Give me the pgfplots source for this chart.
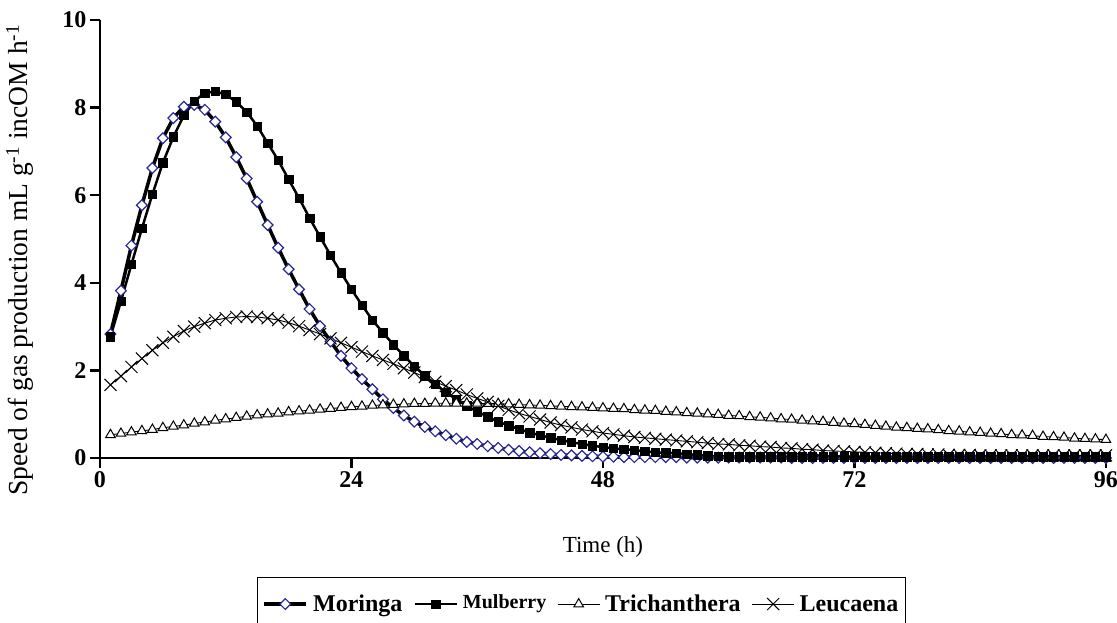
\documentclass[border=0pt]{standalone}
\usepackage{fontspec}
\setmainfont{Liberation Serif}
\usepackage{pgfplots}
\usepackage{pgfplotstable}
\pgfplotsset{compat=1.18}
\definecolor{dblue}{RGB}{40,40,150}

\pgfplotstableread{
t M B T L
1 2.83 2.77 0.53 1.67
2 3.82 3.58 0.56 1.87
3 4.85 4.42 0.59 2.08
4 5.77 5.24 0.62 2.27
5 6.62 6.02 0.65 2.46
6 7.30 6.74 0.69 2.63
7 7.76 7.33 0.72 2.77
8 8.02 7.82 0.75 2.90
9 8.06 8.15 0.79 3.00
10 7.95 8.33 0.82 3.08
11 7.68 8.37 0.86 3.15
12 7.32 8.30 0.89 3.19
13 6.87 8.13 0.92 3.22
14 6.38 7.90 0.95 3.23
15 5.85 7.58 0.98 3.22
16 5.32 7.19 1.00 3.19
17 4.80 6.80 1.02 3.15
18 4.31 6.36 1.05 3.09
19 3.85 5.93 1.07 3.01
20 3.40 5.48 1.09 2.92
21 3.01 5.05 1.11 2.83
22 2.66 4.63 1.13 2.73
23 2.33 4.23 1.15 2.63
24 2.05 3.85 1.17 2.53
25 1.80 3.49 1.18 2.43
26 1.57 3.15 1.20 2.33
27 1.34 2.86 1.21 2.24
28 1.14 2.59 1.22 2.15
29 0.97 2.33 1.23 2.05
30 0.83 2.10 1.24 1.95
31 0.71 1.88 1.24 1.85
32 0.61 1.68 1.25 1.74
33 0.52 1.50 1.25 1.64
34 0.44 1.34 1.25 1.55
35 0.37 1.19 1.25 1.45
36 0.32 1.06 1.25 1.36
37 0.27 0.94 1.24 1.28
38 0.23 0.83 1.24 1.19
39 0.19 0.74 1.23 1.10
40 0.16 0.66 1.22 1.02
41 0.13 0.58 1.21 0.95
42 0.11 0.52 1.20 0.88
43 0.09 0.46 1.19 0.81
44 0.07 0.41 1.18 0.75
45 0.06 0.36 1.17 0.70
46 0.05 0.32 1.16 0.65
47 0.04 0.28 1.15 0.61
48 0.03 0.25 1.14 0.57
49 0.03 0.22 1.13 0.54
50 0.02 0.20 1.12 0.51
51 0.02 0.18 1.10 0.48
52 0.02 0.15 1.09 0.46
53 0.02 0.13 1.08 0.44
54 0.02 0.12 1.06 0.42
55 0.02 0.11 1.05 0.40
56 0.01 0.09 1.03 0.38
57 0.01 0.07 1.02 0.36
58 0.01 0.05 1.00 0.34
59 0.01 0.04 0.99 0.32
60 0.01 0.03 0.97 0.31
61 0.01 0.03 0.96 0.29
62 0.01 0.03 0.94 0.28
63 0.01 0.03 0.93 0.26
64 0.01 0.03 0.91 0.25
65 0.01 0.03 0.89 0.23
66 0.00 0.03 0.88 0.22
67 0.00 0.03 0.86 0.20
68 0.00 0.03 0.84 0.19
69 0.00 0.03 0.83 0.17
70 0.00 0.03 0.81 0.16
71 0.00 0.03 0.79 0.15
72 0.00 0.03 0.78 0.14
73 0.00 0.03 0.76 0.13
74 0.00 0.03 0.74 0.12
75 0.00 0.03 0.72 0.11
76 0.00 0.03 0.70 0.10
77 0.00 0.03 0.69 0.09
78 0.00 0.03 0.67 0.09
79 0.00 0.03 0.66 0.08
80 0.00 0.03 0.64 0.08
81 0.00 0.03 0.62 0.07
82 0.00 0.03 0.61 0.07
83 0.00 0.03 0.59 0.07
84 0.00 0.03 0.58 0.06
85 0.00 0.03 0.56 0.06
86 0.00 0.03 0.55 0.06
87 0.00 0.03 0.53 0.06
88 0.00 0.03 0.52 0.06
89 0.00 0.03 0.51 0.06
90 0.00 0.03 0.49 0.06
91 0.00 0.03 0.48 0.06
92 0.00 0.03 0.47 0.06
93 0.00 0.03 0.45 0.06
94 0.00 0.03 0.44 0.06
95 0.00 0.03 0.43 0.06
96 0.00 0.03 0.42 0.06
}\datatable

\begin{document}
\begin{tikzpicture}[font=\fontsize{23}{27}\selectfont]
\begin{axis}[
  at={(100pt,164pt)}, anchor=south west,
  scale only axis, width=1006pt, height=438pt,
  xmin=0, xmax=96, ymin=0, ymax=10,
  axis lines=left, axis line style={-, line width=2.5pt, black},
  xtick={0,24,48,72,96}, ytick={0,2,4,6,8,10},
  tick align=outside, major tick length=10pt,
  tick style={line width=2.5pt, black},
  /pgf/number format/assume math mode=true,
  tick label style={font=\fontsize{24}{24}\selectfont\bfseries},
  xlabel={Time (h)},
  ylabel={\fontsize{27.5}{30}\selectfont Speed of gas production mL g\textsuperscript{-1} incOM h\textsuperscript{-1}},
  xlabel style={at={(axis description cs:0.5,-0.203)}, anchor=center},
  ylabel style={at={(axis description cs:-0.0795,0.452)}, anchor=center},
  clip=false,
  legend columns=4,
  legend style={at={(axis description cs:0.4786,-0.2717)}, anchor=north,
    draw=black, line width=0.8pt, font=\fontsize{24}{28}\selectfont\bfseries,
    inner xsep=5pt, inner ysep=15pt,
    /tikz/every even column/.append style={column sep=9pt},
    /tikz/every odd column/.append style={column sep=3pt}},
  legend image code/.code={\draw[mark repeat=2,mark phase=2] plot coordinates {(0pt,0pt) (21pt,0pt) (42pt,0pt)};},
]
\addplot[black, line width=3.5pt, mark=square*, mark size=3.8pt,
  mark options={rotate=45, draw=dblue, fill=white, line width=1.2pt, solid}]
  table[x=t, y=M] {\datatable};
\addlegendentry{Moringa}
\addplot[black, line width=2.5pt, mark=square*, mark size=4.2pt,
  mark options={fill=black, draw=black, line width=0.5pt}]
  table[x=t, y=B] {\datatable};
\addlegendentry{\fontsize{20}{20}\selectfont\raisebox{4pt}{Mulberry}}
\addplot[black, line width=0.9pt, mark=triangle*, mark size=5.5pt,
  mark options={fill=white, draw=black, line width=1pt}]
  table[x=t, y=T] {\datatable};
\addlegendentry{Trichanthera}
\addplot[black, line width=0.9pt, mark=x, mark size=8.5pt,
  mark options={line width=1pt}]
  table[x=t, y=L] {\datatable};
\addlegendentry{Leucaena}
\end{axis}
\pgfresetboundingbox
\path (0,0) rectangle (1117pt,622pt);
\end{tikzpicture}
\end{document}
